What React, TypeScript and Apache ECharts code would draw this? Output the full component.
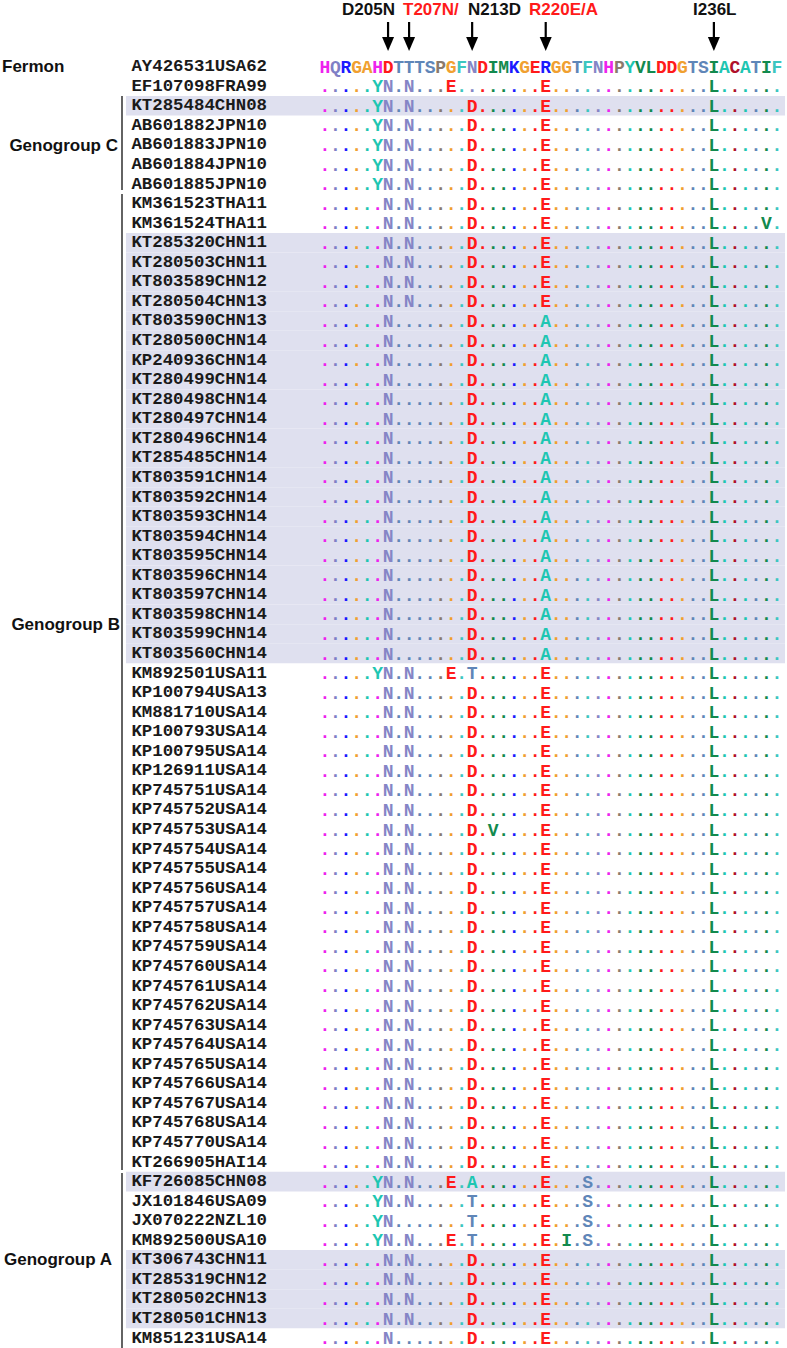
import React, { useEffect, useRef } from "react";
import * as echarts from "echarts";

// ---------------- data ----------------
const firstResidue = 199;
const referenceSeq = "HQRGAHDTTTSPGFNDIMKGERGGTFNHPYVLDDGTSIACATIF";

const strainNames = [
  "AY426531USA62", "EF107098FRA99", "KT285484CHN08", "AB601882JPN10", "AB601883JPN10",
  "AB601884JPN10", "AB601885JPN10", "KM361523THA11", "KM361524THA11", "KT285320CHN11",
  "KT280503CHN11", "KT803589CHN12", "KT280504CHN13", "KT803590CHN13", "KT280500CHN14",
  "KP240936CHN14", "KT280499CHN14", "KT280498CHN14", "KT280497CHN14", "KT280496CHN14",
  "KT285485CHN14", "KT803591CHN14", "KT803592CHN14", "KT803593CHN14", "KT803594CHN14",
  "KT803595CHN14", "KT803596CHN14", "KT803597CHN14", "KT803598CHN14", "KT803599CHN14",
  "KT803560CHN14", "KM892501USA11", "KP100794USA13", "KM881710USA14", "KP100793USA14",
  "KP100795USA14", "KP126911USA14", "KP745751USA14", "KP745752USA14", "KP745753USA14",
  "KP745754USA14", "KP745755USA14", "KP745756USA14", "KP745757USA14", "KP745758USA14",
  "KP745759USA14", "KP745760USA14", "KP745761USA14", "KP745762USA14", "KP745763USA14",
  "KP745764USA14", "KP745765USA14", "KP745766USA14", "KP745767USA14", "KP745768USA14",
  "KP745770USA14", "KT266905HAI14", "KF726085CHN08", "JX101846USA09", "JX070222NZL10",
  "KM892500USA10", "KT306743CHN11", "KT285319CHN12", "KT280502CHN13", "KT280501CHN13",
  "KM851231USA14",
];

const alignment = [
  "HQRGAHDTTTSPGFNDIMKGERGGTFNHPYVLDDGTSIACATIF",
  ".....YN.N...E........E...............L......",
  ".....YN.N.....D......E...............L......",
  ".....YN.N.....D......E...............L......",
  ".....YN.N.....D......E...............L......",
  ".....YN.N.....D......E...............L......",
  ".....YN.N.....D......E...............L......",
  "......N.N.....D......E...............L......",
  "......N.N.....D......E...............L....V.",
  "......N.N.....D......E...............L......",
  "......N.N.....D......E...............L......",
  "......N.N.....D......E...............L......",
  "......N.N.....D......E...............L......",
  "......N.......D......A...............L......",
  "......N.......D......A...............L......",
  "......N.......D......A...............L......",
  "......N.......D......A...............L......",
  "......N.......D......A...............L......",
  "......N.......D......A...............L......",
  "......N.......D......A...............L......",
  "......N.......D......A...............L......",
  "......N.......D......A...............L......",
  "......N.......D......A...............L......",
  "......N.......D......A...............L......",
  "......N.......D......A...............L......",
  "......N.......D......A...............L......",
  "......N.......D......A...............L......",
  "......N.......D......A...............L......",
  "......N.......D......A...............L......",
  "......N.......D......A...............L......",
  "......N.......D......A...............L......",
  ".....YN.N...E.T......E...............L......",
  "......N.N.....D......E...............L......",
  "......N.N.....D......E...............L......",
  "......N.N.....D......E...............L......",
  "......N.N.....D......E...............L......",
  "......N.N.....D......E...............L......",
  "......N.N.....D......E...............L......",
  "......N.N.....D......E...............L......",
  "......N.N.....D.V....E...............L......",
  "......N.N.....D......E...............L......",
  "......N.N.....D......E...............L......",
  "......N.N.....D......E...............L......",
  "......N.N.....D......E...............L......",
  "......N.N.....D......E...............L......",
  "......N.N.....D......E...............L......",
  "......N.N.....D......E...............L......",
  "......N.N.....D......E...............L......",
  "......N.N.....D......E...............L......",
  "......N.N.....D......E...............L......",
  "......N.N.....D......E...............L......",
  "......N.N.....D......E...............L......",
  "......N.N.....D......E...............L......",
  "......N.N.....D......E...............L......",
  "......N.N.....D......E...............L......",
  "......N.N.....D......E...............L......",
  "......N.N.....D......E...............L......",
  ".....YN.N...E.A......E...S...........L......",
  ".....YN.N.....T......E...S...........L......",
  ".....YN.......T......E...S...........L......",
  ".....YN.N...E.T......E.I.S...........L......",
  "......N.N.....D......E...............L......",
  "......N.N.....D......E...............L......",
  "......N.N.....D......E...............L......",
  "......N.N.....D......E...............L......",
  "......N.......D......E...............L......",
];

const shadedRows = [2, 9, 10, 11, 12, 13, 14, 15, 16, 17, 18, 19, 20, 21, 22, 23, 24, 25, 26, 27, 28, 29, 30, 57, 61, 62, 63, 64];

const mutationSites = [205, 207, 213, 220, 236];
const mutationLabels = ["D205N", "T207N/", "N213D", "R220E/A", "I236L"];

// ---------------- styles ----------------
const residueColors: Record<string, string> = {
  H: "#ee22ee", Q: "#7f7fc6", R: "#1a1aff", G: "#f0a030", A: "#1ec6b2",
  D: "#ff1a1a", T: "#5f86b8", S: "#5f86b8", P: "#8a7a6c", F: "#3cc6c0",
  N: "#8585c6", I: "#128a4e", M: "#128a4e", K: "#1a1aff", E: "#ff1a1a",
  Y: "#1ec6b2", V: "#128a4e", L: "#128a4e", C: "#b0102a", W: "#128a4e",
};
const headerOverride: Record<number, string> = { 4: "#f0a030" };
const labelLeft = [342, 403, 468, 529, 693];
const labelColor = ["#111", "#ff1a1a", "#111", "#ff1a1a", "#111"];
const letterFont = 'bold 18px "Liberation Mono", "DejaVu Sans Mono", monospace';
const sansFont = '"Liberation Sans", Arial, sans-serif';

export default function App() {
  const ref = useRef<HTMLDivElement>(null);

  useEffect(() => {
    if (!ref.current) return;
    const chart = echarts.init(ref.current, null, { renderer: "svg" });

    const positions = referenceSeq.split("").map((_, i) => String(firstResidue + i));

    const cells: any[] = [];
    alignment.forEach((seq, r) => {
      seq.split("").forEach((ch, c) => {
        let color: string;
        if (r === 0) color = headerOverride[c] || residueColors[ch] || "#333";
        else if (ch === ".") color = residueColors[referenceSeq[c]] || "#333";
        else color = residueColors[ch] || "#333";
        cells.push({ value: [c, r], ch, color });
      });
    });

    const rowH = 19.56;
    const topY = 66.7;
    const gridLeft = 319.75;
    const colW = 10.51;

    const option: any = {
      animation: false,
      backgroundColor: "#ffffff",
      grid: {
        left: gridLeft,
        width: colW * referenceSeq.length,
        top: topY - rowH / 2,
        height: rowH * strainNames.length,
      },
      xAxis: {
        type: "category",
        data: positions,
        show: false,
        boundaryGap: true,
      },
      yAxis: {
        type: "category",
        data: strainNames,
        inverse: true,
        boundaryGap: true,
        z: 10,
        axisLine: { show: false },
        axisTick: { show: false },
        splitLine: { show: false },
        axisLabel: {
          margin: 52.7,
          color: "#1a1a1a",
          fontFamily: '"Liberation Mono", "DejaVu Sans Mono", monospace',
          fontWeight: "bold",
          fontSize: 17.4,
          interval: 0,
        },
      },
      series: [
        {
          type: "custom",
          name: "bands",
          silent: true,
          z: 1,
          data: shadedRows.map((r) => [0, r]),
          renderItem: (params: any, api: any) => {
            const p = api.coord([0, api.value(1)]);
            const h = api.size([0, 1])[1];
            return {
              type: "rect",
              shape: { x: 126, y: p[1] - h / 2, width: 785 - 126, height: h },
              style: { fill: "#dfe0ef" },
            };
          },
        },
        {
          type: "custom",
          name: "alignment",
          silent: true,
          z: 3,
          data: cells,
          renderItem: (params: any, api: any) => {
            const item = cells[params.dataIndex];
            const p = api.coord([api.value(0), api.value(1)]);
            return {
              type: "text",
              x: p[0],
              y: p[1] + 1,
              style: {
                text: item.ch,
                fill: item.color,
                font: letterFont,
                align: "center",
                verticalAlign: "middle",
              },
            };
          },
        },
        {
          type: "custom",
          name: "arrows",
          silent: true,
          z: 3,
          data: mutationSites.map((s) => [s - firstResidue, 0]),
          renderItem: (params: any, api: any) => {
            const x = api.coord([api.value(0), 0])[0];
            return {
              type: "group",
              children: [
                {
                  type: "line",
                  shape: { x1: x, y1: 22, x2: x, y2: 42 },
                  style: { stroke: "#000", lineWidth: 2.2 },
                },
                {
                  type: "polygon",
                  shape: { points: [[x - 6, 37], [x + 6, 37], [x, 51]] },
                  style: { fill: "#000" },
                },
              ],
            };
          },
        },
      ],
      graphic: [
        ...mutationLabels.map((t, i) => ({
          type: "text",
          left: labelLeft[i],
          top: 1,
          style: {
            text: t,
            fill: labelColor[i],
            font: `bold 17px ${sansFont}`,
          },
        })),
        {
          type: "text",
          x: 2,
          y: 66,
          style: { text: "Fermon", fill: "#111", font: `bold 17px ${sansFont}`, verticalAlign: "middle" },
        },
        {
          type: "text",
          x: 118,
          y: 145,
          style: { text: "Genogroup C", fill: "#111", font: `bold 17px ${sansFont}`, align: "right", verticalAlign: "middle" },
        },
        {
          type: "text",
          x: 120,
          y: 624,
          style: { text: "Genogroup B", fill: "#111", font: `bold 17px ${sansFont}`, align: "right", verticalAlign: "middle" },
        },
        {
          type: "text",
          x: 112,
          y: 1259,
          style: { text: "Genogroup A", fill: "#111", font: `bold 17px ${sansFont}`, align: "right", verticalAlign: "middle" },
        },
        { type: "line", shape: { x1: 122, y1: 96, x2: 122, y2: 190 }, style: { stroke: "#222", lineWidth: 1.4 } },
        { type: "line", shape: { x1: 122, y1: 194, x2: 122, y2: 1170 }, style: { stroke: "#222", lineWidth: 1.4 } },
        { type: "line", shape: { x1: 122, y1: 1173, x2: 122, y2: 1348 }, style: { stroke: "#222", lineWidth: 1.4 } },
      ],
    };

    chart.setOption(option);
    return () => chart.dispose();
  }, []);

  return (
    <div
      ref={ref}
      style={{ position: "absolute", left: 0, top: 0, width: 787, height: 1348, background: "#fff" }}
    />
  );
}
